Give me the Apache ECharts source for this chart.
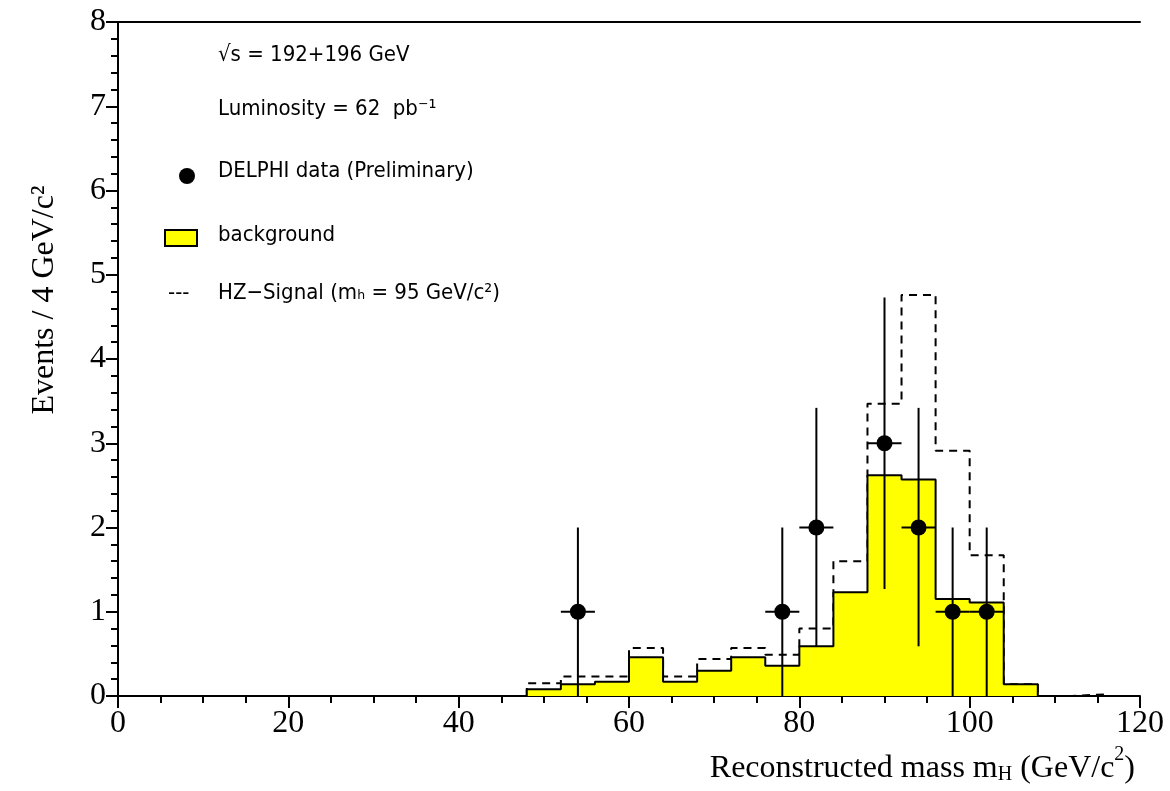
<!DOCTYPE html>
<html>
<head>
<meta charset="UTF-8">
<script src="https://cdn.jsdelivr.net/npm/echarts@6/dist/echarts.min.js"></script>
<style>html,body{margin:0;padding:0;background:#fff}</style>
</head>
<body>
<div id="chart" style="width:1170px;height:791px"></div>
<script>
// bin left edges (4 GeV wide)
var binEdges = [48,52,56,60,64,68,72,76,80,84,88,92,96,100,104,108,112];
var background = [0.08,0.14,0.17,0.46,0.17,0.30,0.46,0.36,0.59,1.23,2.62,2.57,1.15,1.11,0.14,0,0];
var signalTotal = [0.15,0.23,0.23,0.57,0.23,0.44,0.57,0.49,0.80,1.60,3.47,4.76,2.91,1.67,0.14,0,0.02];
// DELPHI data
var dataX = [54,78,82,90,94,98,102];
var dataY = [1,1,2,3,2,1,1];
var errLow = [0,0,0.59,1.27,0.59,0,0];
var errHigh = [2,2,3.42,4.73,3.42,2,2];
var binW = 4;

function stepLine(vals){
  var pts = [[binEdges[0],0]];
  for (var i=0;i<vals.length;i++){
    pts.push([binEdges[i],vals[i]]);
    pts.push([binEdges[i]+binW,vals[i]]);
  }
  pts.push([binEdges[vals.length-1]+binW,0]);
  return pts;
}

var chart = echarts.init(document.getElementById('chart'));
var serif = 'Liberation Serif';
var legFont = '22px "DejaVu Sans Condensed", sans-serif';
chart.setOption({
  animation:false,
  grid:{left:118,right:30,top:22,bottom:95,containLabel:false,outerBoundsMode:'none'},
  xAxis:[{
    type:'value',min:0,max:120,interval:20,
    axisLine:{lineStyle:{color:'#000',width:2}},
    axisTick:{length:12,lineStyle:{color:'#000',width:2}},
    minorTick:{show:true,splitNumber:4,length:7,lineStyle:{color:'#000',width:2}},
    splitLine:{show:false},
    axisLabel:{color:'#000',fontFamily:serif,fontSize:32,margin:12}
  },{
    type:'value',min:0,max:120,position:'top',
    axisLine:{lineStyle:{color:'#000',width:2}},
    axisTick:{show:false},axisLabel:{show:false},splitLine:{show:false}
  }],
  yAxis:{
    type:'value',min:0,max:8,interval:1,
    axisLine:{lineStyle:{color:'#000',width:2}},
    axisTick:{length:12,lineStyle:{color:'#000',width:2}},
    minorTick:{show:true,splitNumber:5,length:7,lineStyle:{color:'#000',width:2}},
    splitLine:{show:false},
    axisLabel:{color:'#000',fontFamily:serif,fontSize:32,margin:12}
  },
  graphic:[
    {type:'text',x:45,y:300,rotation:Math.PI/2,style:{text:'Events / 4 GeV/c\u00b2',font:'32px "Liberation Serif"',fill:'#000',align:'center',verticalAlign:'middle'}},
    {type:'text',right:35,top:745,style:{
      text:'{a|Reconstructed mass m}{s|H}{a| (GeV/c}{p|2}{a|)}',
      rich:{
        a:{fontFamily:serif,fontSize:32,fill:'#000',verticalAlign:'bottom',lineHeight:40},
        s:{fontFamily:serif,fontSize:20,fill:'#000',verticalAlign:'bottom',lineHeight:32},
        p:{fontFamily:serif,fontSize:20,fill:'#000',verticalAlign:'top',lineHeight:20}
      }}},
    {type:'text',left:218,top:44,style:{text:'\u221as = 192+196 GeV',font:legFont,fill:'#000'}},
    {type:'text',left:218,top:98,style:{text:'Luminosity = 62  pb\u207b\u00b9',font:legFont,fill:'#000'}},
    {type:'circle',shape:{cx:187,cy:176,r:8},style:{fill:'#000'}},
    {type:'text',left:218,top:160,style:{text:'DELPHI data (Preliminary)',font:legFont,fill:'#000'}},
    {type:'rect',shape:{x:165,y:230,width:32,height:16},style:{fill:'#ffff00',stroke:'#000',lineWidth:2}},
    {type:'text',left:218,top:224,style:{text:'background',font:legFont,fill:'#000'}},
    {type:'text',left:168,top:282,style:{text:'---',font:legFont,fill:'#000'}},
    {type:'text',left:218,top:282,style:{text:'HZ\u2212Signal (m\u2095 = 95 GeV/c\u00b2)',font:legFont,fill:'#000'}}
  ],
  series:[
    {type:'line',data:stepLine(signalTotal),symbol:'none',
     lineStyle:{color:'#000',width:2,type:[8,6]},z:2},
    {type:'line',data:stepLine(background),symbol:'none',
     lineStyle:{color:'#000',width:2},areaStyle:{color:'#ffff00',opacity:1},z:3},
    {type:'custom',z:5,
     data:dataX.map(function(x,i){return [x,dataY[i],errLow[i],errHigh[i]];}),
     renderItem:function(params,api){
       var c=api.coord([api.value(0),api.value(1)]);
       var lo=api.coord([api.value(0),api.value(2)]);
       var hi=api.coord([api.value(0),api.value(3)]);
       var l=api.coord([api.value(0)-binW/2,api.value(1)]);
       var r=api.coord([api.value(0)+binW/2,api.value(1)]);
       var st={stroke:'#000',lineWidth:2};
       return {type:'group',children:[
         {type:'line',shape:{x1:lo[0],y1:lo[1],x2:hi[0],y2:hi[1]},style:st},
         {type:'line',shape:{x1:l[0],y1:l[1],x2:r[0],y2:r[1]},style:st},
         {type:'circle',shape:{cx:c[0],cy:c[1],r:8},style:{fill:'#000'}}
       ]};
     }}
  ]
});
</script>
</body>
</html>
